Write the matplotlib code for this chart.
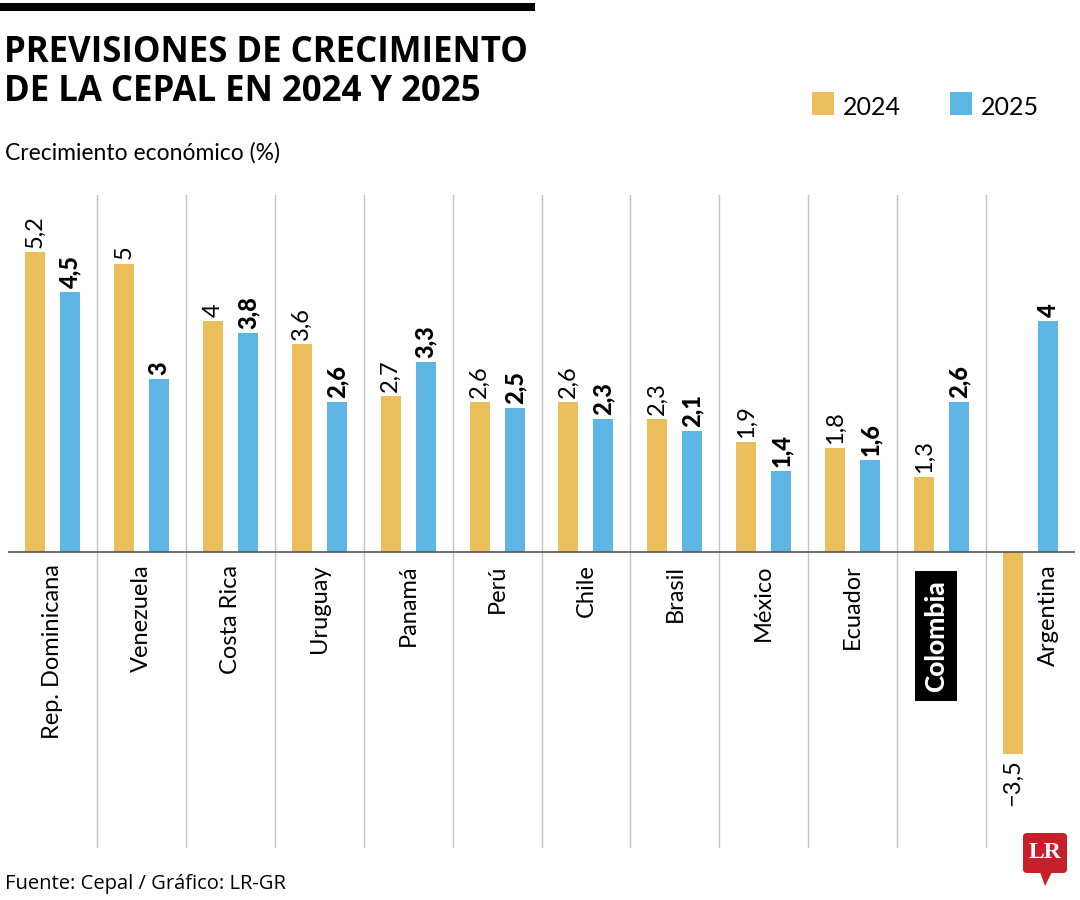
import matplotlib
matplotlib.use("Agg")
import matplotlib.pyplot as plt
from matplotlib import font_manager
from matplotlib.patches import FancyBboxPatch, Polygon, Rectangle
import numpy as np

# data
paises = ["Rep. Dominicana", "Venezuela", "Costa Rica", "Uruguay", "Panamá", "Perú",
          "Chile", "Brasil", "México", "Ecuador", "Colombia", "Argentina"]
crec_2024 = [5.2, 5.0, 4.0, 3.6, 2.7, 2.6, 2.6, 2.3, 1.9, 1.8, 1.3, -3.5]
crec_2025 = [4.5, 3.0, 3.8, 2.6, 3.3, 2.5, 2.3, 2.1, 1.4, 1.6, 2.6, 4.0]
series = ["2024", "2025"]

AMARILLO = "#E9BE5B"
AZUL = "#5EB6E4"

# fuentes disponibles
names = {f.name for f in font_manager.fontManager.ttflist}
COND = "Lato" if "Lato" in names else "DejaVu Sans"
REG = "Open Sans" if "Open Sans" in names else "DejaVu Sans"


def fmt(v):
    s = f"{v:g}".replace(".", ",")
    return s.replace("-", "\u2212")


fig = plt.figure(figsize=(10.8, 9), dpi=100)
W, H = 1080, 900

# barra negra superior
fig.add_artist(Rectangle((0, 1 - 11 / H), 535 / W, 8 / H, transform=fig.transFigure,
                         color="black", lw=0))

fig.text(4 / W, 1 - 62 / H, "PREVISIONES DE CRECIMIENTO", fontsize=25, fontweight="bold",
         family=REG, va="baseline", ha="left")
fig.text(4 / W, 1 - 101 / H, "DE LA CEPAL EN 2024 Y 2025", fontsize=25, fontweight="bold",
         family=REG, va="baseline", ha="left")
fig.text(5 / W, 1 - 160 / H, "Crecimiento económico (%)", fontsize=16.5, family=COND,
         va="baseline", ha="left")

# leyenda
for x0, lab, col in [(812, series[0], AMARILLO), (950, series[1], AZUL)]:
    fig.add_artist(Rectangle((x0 / W, 1 - 115 / H), 22 / W, 23 / H,
                             transform=fig.transFigure, color=col, lw=0))
    fig.text((x0 + 31) / W, 1 - 115 / H, lab, fontsize=18, family=COND,
             va="baseline", ha="left")

ax = fig.add_axes([8 / W, 52 / H, 1067 / W, 653 / H])
x = np.arange(len(paises))
off = 0.197
bw = 0.225
ax.bar(x - off, crec_2024, bw, color=AMARILLO, zorder=2)
ax.bar(x + off, crec_2025, bw, color=AZUL, zorder=2)
ax.set_xlim(-0.5, len(paises) - 0.5)
ax.set_ylim(-5.13, 6.19)
ax.axis("off")

for i in range(len(paises) - 1):
    ax.axvline(i + 0.5, color="#c4c4c4", lw=1, zorder=1)
ax.axhline(0, color="#555555", lw=1.2, zorder=3)

for i, (a, b) in enumerate(zip(crec_2024, crec_2025)):
    if a >= 0:
        ax.annotate(fmt(a), (i - off, a), xytext=(0, 3), textcoords="offset points",
                    rotation=90, ha="center", va="bottom", fontsize=17, family=COND)
    else:
        ax.annotate(fmt(a), (i - off, a), xytext=(0, -4), textcoords="offset points",
                    rotation=90, ha="center", va="top", fontsize=17, family=COND)
    ax.annotate(fmt(b), (i + off, b), xytext=(0, 3), textcoords="offset points",
                rotation=90, ha="center", va="bottom", fontsize=17, family=COND,
                fontweight="black")

    # etiqueta de país
    if paises[i] == "Colombia":
        ax.annotate(paises[i], (i, 0), xytext=(-4, -20), textcoords="offset points",
                    rotation=90, ha="center", va="top", fontsize=19, family=COND,
                    fontweight="black", color="white",
                    bbox=dict(boxstyle="square,pad=0.35", fc="black", ec="none"))
    elif a < 0:
        ax.annotate(paises[i], (i + off, 0), xytext=(0, -9), textcoords="offset points",
                    rotation=90, ha="center", va="top", fontsize=17, family=COND)
    else:
        ax.annotate(paises[i], (i, 0), xytext=(0, -9), textcoords="offset points",
                    rotation=90, ha="center", va="top", fontsize=17, family=COND)

fig.text(5 / W, 1 - 889 / H, "Fuente: Cepal / Gráfico: LR-GR", fontsize=14.5, family=REG,
         va="baseline", ha="left")

# logo LR
fig.add_artist(FancyBboxPatch((1023 / W, 1 - 873 / H), 44 / W, 40 / H,
                              boxstyle="round,pad=0,rounding_size=0.004",
                              transform=fig.transFigure, fc="#C8202A", ec="none"))
fig.add_artist(Polygon([(1040 / W, 1 - 872 / H), (1052 / W, 1 - 872 / H), (1045 / W, 1 - 886 / H)],
                       closed=True, transform=fig.transFigure, fc="#C8202A", ec="none"))
fig.text(1045 / W, 1 - 853 / H, "LR", fontsize=17, fontweight="bold", family="Liberation Serif",
         color="white", ha="center", va="center")

fig.savefig("out.png", dpi=100, facecolor="white")
